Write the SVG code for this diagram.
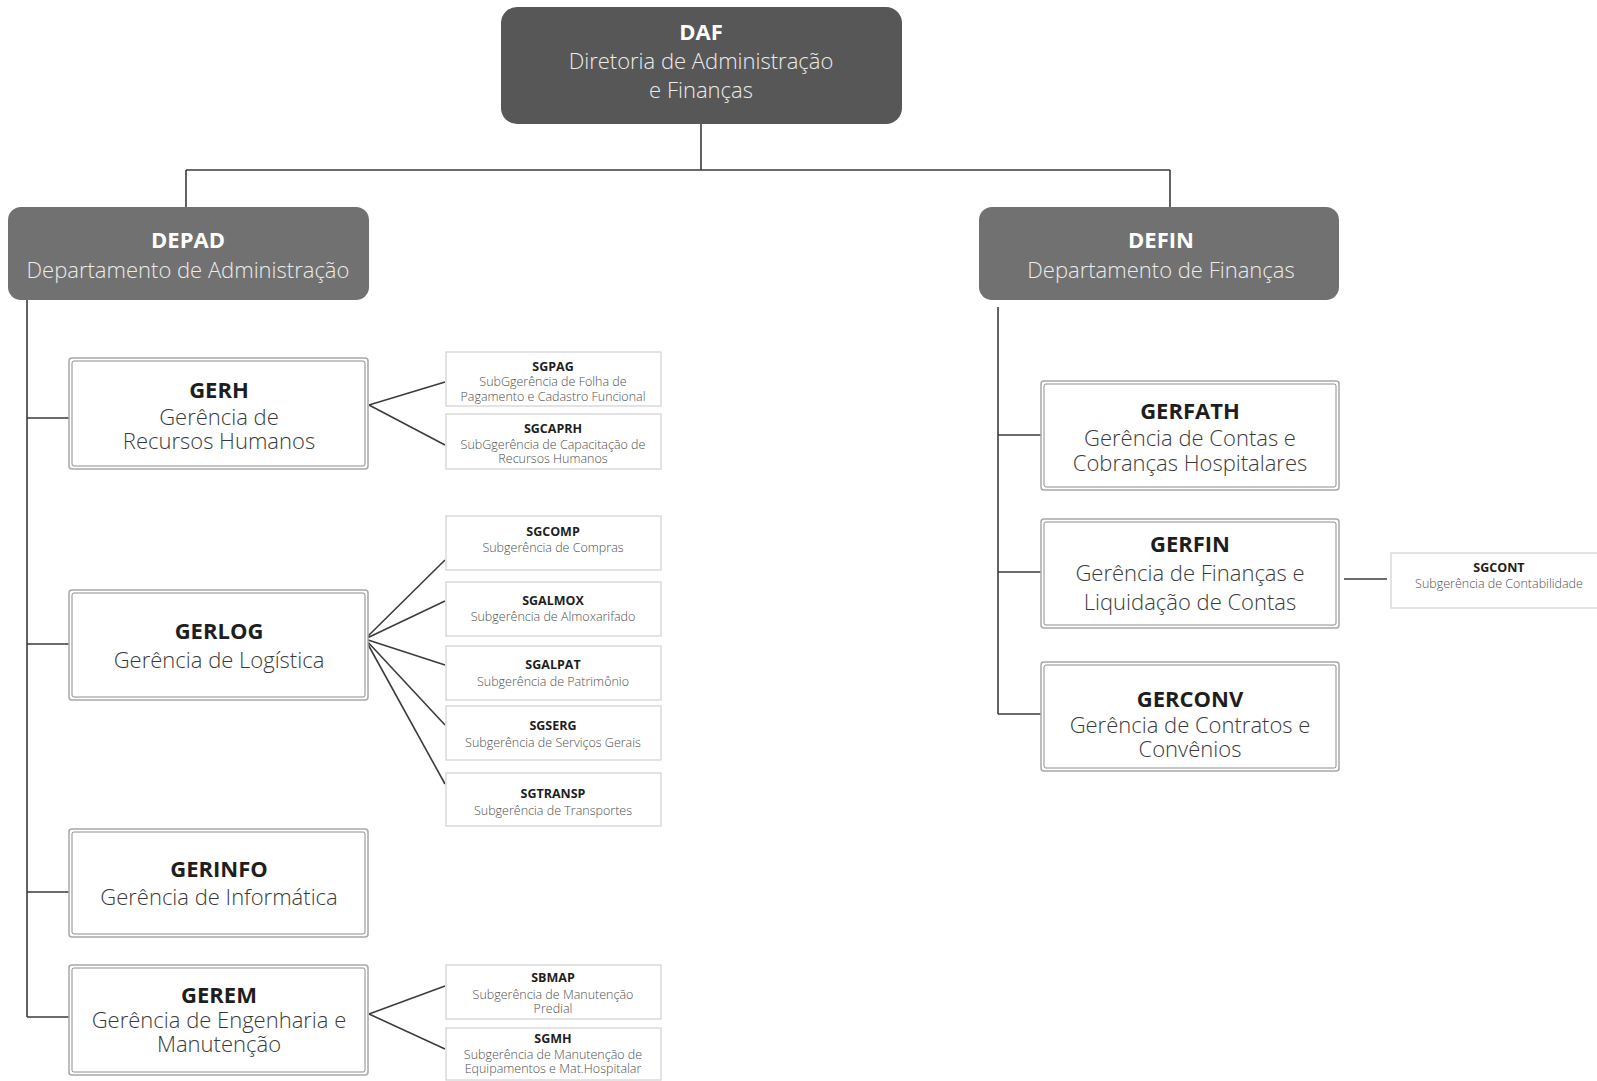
<svg xmlns="http://www.w3.org/2000/svg" width="1597" height="1081" viewBox="0 0 1597 1081">
<style>
text{font-family:"Open Sans","Noto Sans","DejaVu Sans",sans-serif;text-anchor:middle}
.b{font-weight:700;font-size:22px;fill:#1e1e1e}
.d{font-weight:300;font-size:22px;fill:#3a3a3a}
.bw{font-weight:700;font-size:22px;fill:#ffffff}
.dw{font-weight:300;font-size:22px;fill:#ececec}
.sb{font-weight:700;font-size:12.5px;fill:#1e1e1e}
.sd{font-weight:300;font-size:12.5px;fill:#505050}
.top{fill:#575757}
.dep{fill:#717171}
.fo{fill:#fff;stroke:#a8a8a8;stroke-width:1.5}
.fi{fill:none;stroke:#8c8c8c;stroke-width:1}
.sub{fill:#fff;stroke:#d4d4d4;stroke-width:1.3}
.c{fill:none;stroke:#3c3c3c;stroke-width:1.6}
</style>
<rect width="1597" height="1081" fill="#fff"/>
<g id="connectors">
<path class="c" d="M701 124V170M186 170H1170M186 170V207M1170 170V207"/>
<path class="c" d="M27 300V1017M27 418H69M27 644H69M27 892H69M27 1017H69"/>
<path class="c" d="M369 405L445 382M369 405L445 445"/>
<path class="c" d="M365 639L445 560M365 639L445 601M365 639L445 665M365 639L445 725M365 639L445 784"/>
<path class="c" d="M369 1014L445 986M369 1014L445 1049"/>
<path class="c" d="M998 307V714M998 435H1041M998 572H1041M998 714H1041"/>
<path class="c" d="M1344 579H1387"/>
</g>
<g id="DAF">
<rect class="top" x="501" y="7" width="401" height="117" rx="16"/>
<text class="bw" x="701" y="40">DAF</text>
<text class="dw" x="701" y="69">Diretoria de Administração</text>
<text class="dw" x="701" y="98">e Finanças</text>
</g>
<g id="DEPAD">
<rect class="dep" x="8" y="207" width="361" height="93" rx="13"/>
<text class="bw" x="188" y="248">DEPAD</text>
<text class="dw" x="188" y="278">Departamento de Administração</text>
</g>
<g id="DEFIN">
<rect class="dep" x="979" y="207" width="360" height="93" rx="13"/>
<text class="bw" x="1161" y="248">DEFIN</text>
<text class="dw" x="1161" y="278">Departamento de Finanças</text>
</g>
<g id="GERH">
<rect class="fo" x="69" y="358" width="299" height="111" rx="3"/>
<rect class="fi" x="72" y="361" width="293" height="105" rx="2"/>
<text class="b" x="219" y="398">GERH</text>
<text class="d" x="219" y="425">Gerência de</text>
<text class="d" x="219" y="449">Recursos Humanos</text>
</g>
<g id="GERLOG">
<rect class="fo" x="69" y="590" width="299" height="110" rx="3"/>
<rect class="fi" x="72" y="593" width="293" height="104" rx="2"/>
<text class="b" x="219" y="639">GERLOG</text>
<text class="d" x="219" y="668">Gerência de Logística</text>
</g>
<g id="GERINFO">
<rect class="fo" x="69" y="829" width="299" height="108" rx="3"/>
<rect class="fi" x="72" y="832" width="293" height="102" rx="2"/>
<text class="b" x="219" y="877">GERINFO</text>
<text class="d" x="219" y="905">Gerência de Informática</text>
</g>
<g id="GEREM">
<rect class="fo" x="69" y="965" width="299" height="110" rx="3"/>
<rect class="fi" x="72" y="968" width="293" height="104" rx="2"/>
<text class="b" x="219" y="1003">GEREM</text>
<text class="d" x="219" y="1028">Gerência de Engenharia e</text>
<text class="d" x="219" y="1052">Manutenção</text>
</g>
<g id="SGPAG">
<rect class="sub" x="446" y="352" width="215" height="54"/>
<text class="sb" x="553" y="371">SGPAG</text>
<text class="sd" x="553" y="386">SubGgerência de Folha de</text>
<text class="sd" x="553" y="401">Pagamento e Cadastro Funcional</text>
</g>
<g id="SGCAPRH">
<rect class="sub" x="446" y="414" width="215" height="55"/>
<text class="sb" x="553" y="433">SGCAPRH</text>
<text class="sd" x="553" y="449">SubGgerência de Capacitação de</text>
<text class="sd" x="553" y="463">Recursos Humanos</text>
</g>
<g id="SGCOMP">
<rect class="sub" x="446" y="516" width="215" height="54"/>
<text class="sb" x="553" y="536">SGCOMP</text>
<text class="sd" x="553" y="552">Subgerência de Compras</text>
</g>
<g id="SGALMOX">
<rect class="sub" x="446" y="582" width="215" height="54"/>
<text class="sb" x="553" y="605">SGALMOX</text>
<text class="sd" x="553" y="621">Subgerência de Almoxarifado</text>
</g>
<g id="SGALPAT">
<rect class="sub" x="446" y="646" width="215" height="54"/>
<text class="sb" x="553" y="669">SGALPAT</text>
<text class="sd" x="553" y="686">Subgerência de Patrimônio</text>
</g>
<g id="SGSERG">
<rect class="sub" x="446" y="706" width="215" height="54"/>
<text class="sb" x="553" y="730">SGSERG</text>
<text class="sd" x="553" y="747">Subgerência de Serviços Gerais</text>
</g>
<g id="SGTRANSP">
<rect class="sub" x="446" y="773" width="215" height="53"/>
<text class="sb" x="553" y="798">SGTRANSP</text>
<text class="sd" x="553" y="815">Subgerência de Transportes</text>
</g>
<g id="SBMAP">
<rect class="sub" x="446" y="965" width="215" height="54"/>
<text class="sb" x="553" y="982">SBMAP</text>
<text class="sd" x="553" y="999">Subgerência de Manutenção</text>
<text class="sd" x="553" y="1013">Predial</text>
</g>
<g id="SGMH">
<rect class="sub" x="446" y="1028" width="215" height="52"/>
<text class="sb" x="553" y="1043">SGMH</text>
<text class="sd" x="553" y="1059">Subgerência de Manutenção de</text>
<text class="sd" x="553" y="1073">Equipamentos e Mat.Hospitalar</text>
</g>
<g id="GERFATH">
<rect class="fo" x="1041" y="381" width="298" height="109" rx="3"/>
<rect class="fi" x="1044" y="384" width="292" height="103" rx="2"/>
<text class="b" x="1190" y="419">GERFATH</text>
<text class="d" x="1190" y="446">Gerência de Contas e</text>
<text class="d" x="1190" y="471">Cobranças Hospitalares</text>
</g>
<g id="GERFIN">
<rect class="fo" x="1041" y="519" width="298" height="109" rx="3"/>
<rect class="fi" x="1044" y="522" width="292" height="103" rx="2"/>
<text class="b" x="1190" y="552">GERFIN</text>
<text class="d" x="1190" y="581">Gerência de Finanças e</text>
<text class="d" x="1190" y="610">Liquidação de Contas</text>
</g>
<g id="GERCONV">
<rect class="fo" x="1041" y="662" width="298" height="109" rx="3"/>
<rect class="fi" x="1044" y="665" width="292" height="103" rx="2"/>
<text class="b" x="1190" y="707">GERCONV</text>
<text class="d" x="1190" y="733">Gerência de Contratos e</text>
<text class="d" x="1190" y="757">Convênios</text>
</g>
<g id="SGCONT">
<rect class="sub" x="1391" y="553" width="215" height="55"/>
<text class="sb" x="1499" y="572">SGCONT</text>
<text class="sd" x="1499" y="588">Subgerência de Contabilidade</text>
</g>
</svg>
